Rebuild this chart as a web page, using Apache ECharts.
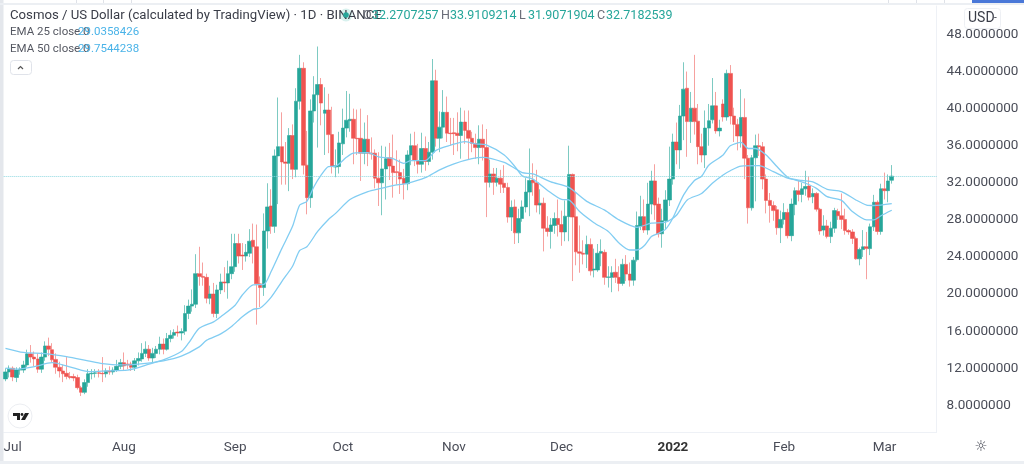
<!DOCTYPE html>
<html><head><meta charset="utf-8">
<script src="https://cdn.jsdelivr.net/npm/echarts@6/dist/echarts.min.js"></script>
<style>html,body{margin:0;padding:0;background:#fff}#c{width:1024px;height:464px}</style>
</head><body><div id="c"></div>
<script>
// Daily candles, 29 Jun 2021 to 3 Mar 2022
const opens = [10.85,11.6,12.0,11.0,11.8,11.8,12.35,13.55,13.2,13.0,11.9,13.2,14.4,14.0,12.95,12.1,11.7,11.45,11.1,11.1,11.0,9.9,9.4,10.45,11.4,11.45,11.5,11.45,11.4,11.7,11.6,11.8,12.2,12.6,12.45,12.45,12.1,12.8,13.0,13.6,14.05,13.1,13.6,14.05,14.6,14.05,15.2,15.55,15.9,15.8,
16.0,17.9,18.7,18.9,22.2,21.9,21.8,19.55,20.0,17.9,20.45,21.3,21.2,22.2,22.95,25.45,24.2,24.1,24.4,25.8,25.1,21.1,20.7,26.8,29.5,27.3,34.9,35.9,34.25,34.1,37.1,33.45,40.8,44.35,33.9,30.4,39.75,41.5,42.6,39.5,39.85,37.2,33.7,33.75,36.2,37.9,38.7,38.85,36.8,36.8,
35.2,36.7,35.2,35.2,32.5,32.0,33.5,34.7,33.8,33.2,33.1,32.5,31.9,35.0,36.0,34.4,34.0,35.7,34.3,35.3,43.0,36.8,38.0,39.6,37.35,37.4,37.35,37.1,38.55,37.65,36.8,36.25,35.8,36.7,35.8,32.05,32.95,32.05,32.5,31.95,31.5,28.3,29.4,26.6,28.15,29.4,31.0,32.3,32.0,29.6,
29.8,27.1,26.75,27.4,28.15,27.5,26.7,28.35,32.9,28.35,24.55,24.4,24.3,25.35,22.6,22.6,24.4,24.5,21.8,21.8,22.35,21.8,21.15,23.2,22.15,21.5,23.7,27.3,28.35,26.9,29.7,32.2,29.7,26.5,27.9,30.15,32.4,36.4,35.55,39.2,42.2,38.6,40.05,38.65,35.9,35.0,37.9,38.8,40.3,37.6,
40.5,39.1,43.8,39.2,38.3,37.05,39.05,34.65,29.3,34.7,36.0,35.9,32.4,30.1,29.55,29.1,27.15,28.05,28.8,26.3,29.65,31.15,30.75,31.35,31.65,30.5,30.85,29.15,26.9,27.35,26.2,27.1,28.9,28.45,28.05,26.85,26.7,26.0,23.8,24.8,25.1,24.9,27.25,29.9,26.75,31.35,31.15,32.27];
const closes = [11.6,12.0,11.05,11.8,11.9,12.35,13.55,13.2,13.0,11.9,13.2,14.4,14.05,12.9,12.1,11.7,11.4,11.1,11.0,10.95,9.9,9.4,10.45,11.4,11.45,11.5,11.45,11.4,11.7,11.6,11.8,12.2,12.6,12.25,12.35,12.1,12.8,13.05,13.6,14.05,13.1,13.6,14.05,14.6,14.05,15.2,15.55,15.85,15.8,15.95,
17.9,18.7,18.9,22.2,21.9,21.8,19.55,20.0,17.9,20.45,21.3,21.2,22.2,22.95,25.45,24.1,24.1,24.5,25.7,25.1,21.1,20.7,26.8,29.4,27.3,34.9,35.9,34.25,34.1,37.1,33.45,40.8,44.35,33.9,30.4,39.75,41.5,42.6,40.6,39.85,37.2,33.75,33.85,36.3,37.9,38.75,38.85,36.8,36.75,35.2,
36.7,35.2,35.1,32.5,32.0,33.5,34.6,33.8,33.1,33.1,32.4,31.9,35.0,36.0,34.4,34.0,35.7,34.3,35.3,43.0,36.8,38.0,39.6,37.35,37.3,37.3,37.1,38.55,37.65,36.8,36.25,35.8,36.7,35.8,32.05,32.95,32.05,32.5,31.85,31.5,28.3,29.35,26.6,28.15,29.4,31.0,32.25,32.0,29.6,29.8,
27.1,26.75,27.45,28.15,27.5,26.7,28.4,32.9,28.3,24.55,24.4,24.3,25.35,22.5,22.7,24.4,24.6,21.8,21.85,22.3,21.8,21.15,23.2,22.15,21.5,23.65,27.4,28.35,26.9,29.7,32.2,29.6,26.5,27.9,30.15,32.4,36.4,35.55,39.2,42.1,38.6,40.05,38.6,35.9,35.0,37.9,38.7,40.3,37.6,37.9,
39.1,43.8,39.2,38.3,37.05,39.05,34.65,29.3,34.7,36.0,35.9,32.4,30.1,29.55,29.0,27.15,28.05,28.8,26.3,29.7,31.15,30.75,31.35,31.6,30.45,30.85,29.15,26.8,27.35,26.2,27.1,29.0,28.45,28.05,26.85,26.7,26.0,23.8,24.8,25.1,24.9,27.25,29.9,26.75,31.35,31.15,32.2,32.72];
const lows = [10.6,11.0,10.6,10.5,11.3,11.5,12.1,12.6,12.2,11.5,11.5,12.8,13.3,12.6,11.4,11.0,10.5,10.8,10.8,10.6,9.7,9.0,9.2,10.0,10.8,11.0,11.0,10.5,11.0,11.3,11.3,11.6,11.9,11.8,11.9,11.7,11.7,12.3,12.7,13.2,12.8,12.6,13.1,13.5,13.5,13.9,14.8,15.2,15.4,15.0,
15.6,17.3,18.1,18.5,20.9,20.9,19.0,18.9,17.5,17.4,20.0,20.2,19.5,21.6,22.4,23.3,22.6,23.5,24.0,23.3,16.7,18.6,19.8,24.9,26.5,26.6,29.7,31.8,31.8,31.1,32.4,32.6,39.9,32.9,28.6,29.3,38.5,35.8,38.2,35.0,35.2,33.0,32.6,33.0,35.0,36.9,37.5,34.0,35.0,32.2,
34.0,33.8,34.5,31.4,29.5,28.5,30.2,32.3,30.4,31.8,30.8,30.2,31.2,33.9,33.8,33.0,33.1,33.3,33.9,34.5,35.9,35.3,36.8,36.4,36.0,35.0,35.4,34.6,36.2,34.5,35.3,34.6,34.0,34.4,28.3,31.5,30.7,31.6,30.9,30.9,27.7,26.8,25.4,25.5,27.8,28.8,28.4,30.6,28.8,28.6,
24.6,26.2,24.9,26.5,26.2,25.2,25.7,25.7,21.4,23.1,22.3,23.2,22.8,22.0,21.8,22.4,23.0,21.0,20.7,20.2,21.2,20.3,20.9,21.4,20.8,20.9,23.5,26.9,26.6,26.4,28.6,28.0,26.1,25.0,27.0,29.5,31.8,34.0,33.5,36.6,34.8,36.3,37.2,34.0,34.2,33.6,36.0,38.4,37.3,37.0,
38.6,38.7,38.3,36.4,35.5,35.8,32.4,27.6,29.0,30.0,34.9,31.3,28.7,27.7,27.9,26.4,25.5,27.5,26.0,25.7,28.5,30.0,29.9,30.6,30.1,29.8,28.9,26.4,26.3,26.0,25.5,26.6,28.0,27.0,26.4,26.4,25.4,23.7,23.1,24.0,21.6,24.2,26.8,26.4,26.4,30.2,29.9,31.91];
const highs = [12.0,12.3,12.2,12.1,12.1,12.8,14.0,14.5,13.8,13.6,13.7,14.9,15.3,14.7,13.6,12.7,12.4,13.2,11.6,11.4,11.3,10.1,10.8,11.9,11.9,11.9,11.9,13.2,12.0,12.2,12.1,12.9,13.0,13.7,12.9,12.7,13.1,13.7,14.7,14.9,14.5,14.2,14.4,15.4,15.2,15.8,16.1,16.2,16.6,16.3,
18.8,19.4,20.5,24.3,25.1,23.4,22.2,20.9,21.2,21.0,22.2,22.9,23.6,26.5,26.5,26.5,25.5,25.4,27.0,27.6,27.5,21.9,28.7,31.95,31.3,35.6,41.2,39.6,36.4,37.9,38.3,42.2,45.8,45.0,37.6,41.0,43.5,46.7,43.3,42.3,41.6,40.2,35.6,37.5,40.0,41.9,41.6,40.0,39.9,40.0,
38.5,39.3,36.9,35.6,35.3,36.0,35.9,36.3,37.2,35.5,34.5,33.5,35.5,37.3,37.5,36.2,37.4,37.0,36.4,45.35,44.2,39.7,42.0,41.3,39.0,39.0,39.6,40.1,39.8,39.8,37.5,37.3,38.2,38.3,37.8,34.5,33.6,33.6,33.4,33.9,32.0,30.1,30.2,29.2,30.1,32.5,35.7,34.1,33.4,31.3,
30.4,28.4,28.2,28.8,30.2,29.0,30.1,36.0,33.0,31.0,27.4,25.8,26.3,26.0,24.9,25.4,25.9,24.8,23.0,23.0,23.8,23.0,23.8,24.2,23.4,24.0,28.9,30.6,30.2,32.0,33.3,34.0,30.4,29.2,31.2,35.9,37.3,38.5,40.4,45.0,44.0,41.8,45.8,40.5,37.3,39.8,40.5,43.3,41.8,38.8,
41.0,44.2,44.7,40.1,38.9,42.1,41.1,35.0,35.0,37.2,37.3,36.4,32.9,30.9,30.0,29.5,29.0,29.8,29.2,30.3,31.5,32.3,32.0,33.3,32.7,31.4,31.0,29.3,28.5,28.0,27.8,29.3,29.2,30.85,29.2,27.0,27.0,26.2,25.0,26.9,26.7,27.6,30.7,30.1,31.9,33.1,32.9,33.91];

// EMA lines, sampled from the picture on the listed day numbers
const ema25Days = [0,3,8,13,17,21,24,28,34,37,40,44,49,51,54,58,60,64,66,69,72,74,77,80,82,84,86,88,90,92,95,97,101,104,108,111,113,117,120,124,128,131,134,139,142,144,147,151,155,157,160,164,168,171,174,176,178,180,182,184,186,189,192,194,196,200,202,205,207,209,212,215,218,221,223,226,229,233,236,240,242,244,247];
const ema25Values = [12.0,11.9,12.17,12.6,12.24,11.8,11.63,11.7,11.8,12.06,12.45,12.9,13.8,14.7,16.3,17.0,17.56,18.8,19.9,21.0,21.05,22.4,24.9,27.3,29.6,30.0,31.6,32.85,33.75,33.8,34.75,35.2,35.25,34.8,34.6,34.1,34.4,34.4,35.5,36.05,36.45,36.2,36.1,35.0,33.75,32.75,32.4,31.2,30.2,30.15,28.9,27.7,26.75,25.5,24.75,24.75,25.2,26.2,26.55,27.0,28.2,30.7,32.25,32.7,33.9,35.0,36.0,36.35,35.7,35.7,35.0,33.75,32.6,32.2,31.95,31.4,30.5,30.1,28.9,28.0,28.0,28.45,29.04];
const ema50Days = [0,5,11,17,23,27,32,37,44,49,54,56,60,63,66,69,71,74,77,80,82,84,87,90,92,96,101,104,108,112,117,121,125,130,133,139,142,144,147,152,157,162,167,171,176,180,184,187,190,194,197,200,202,205,210,214,218,222,225,229,233,237,240,242,247];
const ema50Values = [14.15,13.7,13.57,13.25,12.8,12.5,12.35,12.45,12.8,13.3,14.3,15.0,15.7,16.5,17.55,18.35,18.5,19.65,21.35,23.0,24.7,25.1,26.75,28.05,28.7,30.2,31.05,31.35,31.7,31.95,32.55,33.4,34.05,34.6,34.75,34.2,33.55,33.1,32.95,32.1,31.5,30.0,29.05,28.0,27.2,27.65,27.75,28.5,30.15,30.85,31.95,32.85,33.3,33.8,33.85,33.2,32.5,32.25,32.1,31.3,31.05,30.15,29.6,29.55,29.75];

// Axis ticks
const priceTicks = [8,12,16,20,24,28,32,36,40,44,48];
const monthDays = [2,33,64,94,125,155,186,217,245];
const monthLabels = ["Jul","Aug","Sep","Oct","Nov","Dec","2022","Feb","Mar"];
const lastClose = 32.7182539;

// Header texts
const titleText = "Cosmos / US Dollar (calculated by TradingView) · 1D · BINANCE";
const ohlcKeys = ["O","H","L","C"];
const ohlcValues = ["32.2707257","33.9109214","31.9071904","32.7182539"];
const emaNames = ["EMA 25 close 0","EMA 50 close 0"];
const emaLast = ["29.0358426","29.7544238"];

const UP = "#26a69a", DOWN = "#ef5350", EMA = "#82cdf2", FONT = "Roboto, 'Open Sans', sans-serif";
const slots = 260;
const days = Array.from({length: slots}, (_, i) => "d" + i);
const candles = opens.map((o, i) => [o, closes[i], lows[i], highs[i]]);
const pairs = (d, v) => d.map((x, i) => [x, v[i]]);

const txt = (x, y, text, size, fill, extra) => ({type:"text", z:50, silent:true, x, y,
  style:Object.assign({text, fontFamily:FONT, fontSize:size, fill, textVerticalAlign:"middle"}, extra||{})});
const rect = (x, y, w, h, fill) => ({type:"rect", z:1, silent:true, shape:{x,y,width:w,height:h}, style:{fill}});

let ohlcX = 363;
const ohlcGraphics = [];
ohlcKeys.forEach((k, i) => {
  ohlcGraphics.push(txt(ohlcX, 16, k, 12.5, "#6a6d78"));
  ohlcGraphics.push(txt(ohlcX + 9, 16, ohlcValues[i], 12.5, UP));
  ohlcX += 78;
});

const chart = echarts.init(document.getElementById("c"), null, {renderer:"canvas"});
chart.setOption({
  animation:false,
  backgroundColor:"#fff",
  grid:{left:3.7, top:6, width:932.9, height:426, containLabel:false},
  xAxis:{type:"category", data:days, boundaryGap:true,
    axisLine:{show:true, lineStyle:{color:"#eef1f6"}}, axisTick:{show:false}, splitLine:{show:false},
    axisLabel:{margin:9, fontFamily:FONT, fontSize:13.5, color:"#4a4d58", hideOverlap:false,
      interval:(i) => monthDays.includes(i),
      formatter:(v, i) => { const k = monthDays.indexOf(i); const t = k < 0 ? "" : monthLabels[k]; return t === "2022" ? "{b|2022}" : t; },
      rich:{b:{fontFamily:FONT, fontSize:13.5, fontWeight:"bold", color:"#333"}}}},
  yAxis:{type:"value", position:"right", min:5.12, max:51.07, scale:true,
    axisLine:{show:true, lineStyle:{color:"#eef1f6"}}, axisTick:{show:false}, splitLine:{show:false},
    axisLabel:{margin:10, fontFamily:FONT, fontSize:13.5, color:"#4a4d58", customValues:priceTicks,
      formatter:(v) => v.toFixed(7)}},
  series:[
    {type:"candlestick", data:candles, barWidth:4, z:3,
      itemStyle:{color:UP, color0:DOWN, borderColor:"rgba(38,166,154,0.6)", borderColor0:"rgba(239,83,80,0.55)", borderWidth:1},
      markLine:{silent:true, symbol:"none", label:{show:false}, animation:false,
        lineStyle:{color:"#8fd8e0", type:"dotted", width:1}, data:[{yAxis:lastClose}]}},
    {type:"line", data:pairs(ema25Days, ema25Values), showSymbol:false, symbol:"none", smooth:0.25, z:4, lineStyle:{color:EMA, width:1.3}},
    {type:"line", data:pairs(ema50Days, ema50Values), showSymbol:false, symbol:"none", smooth:0.25, z:4, lineStyle:{color:EMA, width:1.3}}
  ],
  graphic:[
    rect(0,0,3.5,464,"#e4e7ec"),
    rect(0,3,1024,2,"#eceff3"),
    rect(0,461,1024,3,"#eceff3"),
    rect(972,0,52,3,"#4a78d8"),
    ...[76,103,131,888,916,944].map(x => rect(x,0,1,3,"#dfe2e8")),
    txt(10,16,titleText,13.2,"#3a3d48"),
    {type:"circle", z:49, silent:true, shape:{cx:346,cy:15,r:6.5}, style:{fill:"#d8f1ee"}},
    {type:"circle", z:50, silent:true, shape:{cx:346,cy:15,r:2.8}, style:{fill:UP}},
    ...ohlcGraphics,
    txt(10,32,emaNames[0],11.5,"#555862"),
    txt(78,32,emaLast[0],11.5,"#4ab3e8"),
    txt(10,49,emaNames[1],11.5,"#555862"),
    txt(78,49,emaLast[1],11.5,"#4ab3e8"),
    {type:"rect", z:50, silent:true, shape:{x:10.5,y:60.5,width:21,height:14,r:3}, style:{fill:"#fff",stroke:"#e0e3ea",lineWidth:1}},
    {type:"polyline", z:51, silent:true, shape:{points:[[18,69],[20.5,66.5],[23,69]]}, style:{stroke:"#555",fill:null,lineWidth:1.2}},
    {type:"rect", z:50, silent:true, shape:{x:964.5,y:8.5,width:36,height:20,r:3}, style:{fill:"#fff",stroke:"#eef0f4",lineWidth:1}},
    txt(968,18.5,"USD",14,"#3a3d48"),
    txt(994,18.5,"-",10,"#3a3d48"),
    {type:"circle", z:50, silent:true, shape:{cx:20,cy:416,r:12}, style:{fill:"#fff",stroke:"#eceef2",lineWidth:1}},
    {type:"polygon", z:51, silent:true, shape:{points:[[13,413],[20,413],[20,420],[17,420],[17,416],[13,416]]}, style:{fill:"#222"}},
    {type:"circle", z:51, silent:true, shape:{cx:22,cy:414.5,r:1.4}, style:{fill:"#222"}},
    {type:"polygon", z:51, silent:true, shape:{points:[[25,413],[29,413],[25,420],[21,420]]}, style:{fill:"#222"}},
    {type:"text", z:50, silent:true, x:981, y:447, style:{text:"☼", fontFamily:"'DejaVu Sans'", fontSize:15, fill:"#4a4d58", textAlign:"center", textVerticalAlign:"middle"}}
  ]
});
</script></body></html>
